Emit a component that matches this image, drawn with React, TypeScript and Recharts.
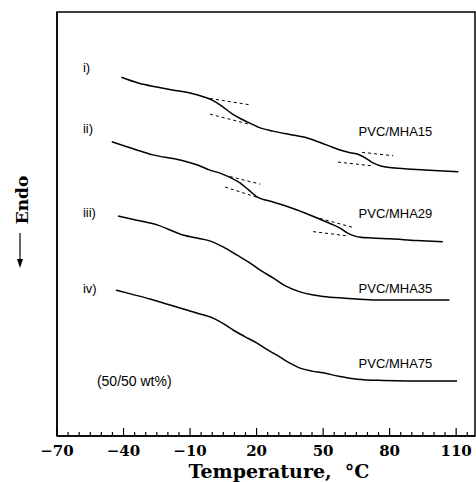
import React from "react";
import {
  LineChart,
  Line,
  XAxis,
  YAxis,
  ReferenceDot,
  ReferenceArea,
} from "recharts";

// temperature (°C) and heat flow (arbitrary units)
const TEMP_I = [-41, -33, -25, -18, -10, -4, 0, 3.5, 9, 15.7, 21, 27.4, 35, 42.8, 51.8, 58, 62.2, 66, 69, 72.5, 76, 80, 88, 100, 111];
const HEAT_I = [84.6, 83.2, 82.3, 81.6, 80.9, 80.0, 79.2, 78.1, 76.0, 74.1, 72.8, 71.9, 71.1, 70.3, 68.6, 67.4, 66.8, 66.4, 65.6, 64.4, 63.7, 63.3, 63.0, 62.6, 62.3];

const TEMP_II = [-45.3, -36, -26.7, -14.5, -6, -1, 3.5, 8, 12.5, 16.5, 20.2, 27.4, 38.3, 47.3, 54.6, 58, 60.9, 64, 66.8, 72, 80.2, 92, 104];
const HEAT_II = [69.4, 67.8, 66.3, 65.1, 63.8, 62.7, 62.0, 61.0, 59.7, 58.0, 56.4, 55.2, 53.3, 51.4, 49.8, 48.9, 47.9, 47.2, 46.9, 46.7, 46.5, 46.1, 45.8];

const TEMP_III = [-42.5, -34, -24.9, -13.2, -6, -2.3, 4.9, 11, 17.1, 22, 27.4, 33, 39.6, 45, 50, 60, 72.5, 90, 107];
const HEAT_III = [51.9, 50.9, 49.8, 47.4, 46.6, 46.2, 44.6, 42.7, 40.8, 39.0, 37.3, 35.4, 34.0, 33.3, 32.9, 32.5, 32.1, 32.1, 32.1];

const TEMP_IV = [-43.4, -36, -28.1, -21, -14.5, -7, 0.4, 5, 9.4, 14.5, 20.2, 25, 30.6, 35, 39.6, 45, 50, 57, 65.3, 77, 88, 100, 110.4];
const HEAT_IV = [34.4, 33.4, 32.3, 31.2, 30.2, 29.0, 27.8, 26.5, 25.0, 23.5, 21.9, 20.3, 18.6, 17.2, 16.0, 15.3, 14.9, 14.1, 13.4, 13.1, 13.0, 13.0, 13.0];

// dashed tangent construction lines [t1, q1, t2, q2]
const TANGENTS: number[][] = [
  [-1.0, 79.6, 17.1, 78.1],
  [-1.0, 75.9, 16.2, 73.6],
  [67.6, 66.9, 81.6, 66.1],
  [56.7, 64.6, 72.5, 63.7],
  [8.0, 61.2, 21.6, 59.4],
  [5.8, 58.7, 20.2, 56.3],
  [48.6, 51.3, 63.5, 49.2],
  [45.5, 48.2, 60.9, 47.2],
];

const CURVE_TAGS = ["i)", "ii)", "iii)", "iv)"];
const TAG_Y = [87.0, 72.6, 52.8, 34.9];
const SAMPLE_NAMES = ["PVC/MHA15", "PVC/MHA29", "PVC/MHA35", "PVC/MHA75"];
const SAMPLE_Y = [71.9, 52.4, 34.9, 17.2];

const X_TICKS = Array.from({ length: 38 }, (_, i) => -70 + i * 5);
const MAJOR_TICKS = [-70, -40, -10, 20, 50, 80, 110];
const MAJOR_LABELS = ["\u221270", "\u221240", "\u221210", "20", "50", "80", "110"];

const X_DOMAIN = [-70, 118.5];
const Y_DOMAIN = [0, 100];

const zip = (ts: number[], qs: number[]) => ts.map((t, i) => ({ t, q: qs[i] }));
const CURVES = [zip(TEMP_I, HEAT_I), zip(TEMP_II, HEAT_II), zip(TEMP_III, HEAT_III), zip(TEMP_IV, HEAT_IV)];

const SERIF = "'DejaVu Serif', serif";
const SANS = "'Liberation Sans', Arial, sans-serif";

const XTick = (props: any) => {
  const { x, y, payload } = props;
  const idx = MAJOR_TICKS.indexOf(payload.value);
  const major = idx >= 0;
  return (
    <g>
      <line x1={x} x2={x} y1={y} y2={y - (major ? 8 : 4)} stroke="#000" strokeWidth={1.2} />
      {major && (
        <text x={x} y={y + 20} textAnchor="middle" fontFamily={SERIF} fontWeight="bold" fontSize={15} fill="#000">
          {MAJOR_LABELS[idx]}
        </text>
      )}
    </g>
  );
};

const EndoLabel = () => (
  <g>
    <text
      x={22}
      y={200}
      transform="rotate(-90, 22, 200)"
      textAnchor="middle"
      dominantBaseline="central"
      fontFamily={SERIF}
      fontWeight="bold"
      fontSize={17}
      fill="#000"
    >
      Endo
    </text>
    <line x1={20} x2={20} y1={233} y2={264} stroke="#000" strokeWidth={1.2} />
    <polygon points="17,259 23,259 20,268" fill="#000" />
  </g>
);

const TempLabel = () => (
  <text x={279} y={478} textAnchor="middle" fontFamily={SERIF} fontWeight="bold" fontSize={19} fill="#000" style={{ whiteSpace: "pre" }}>
    {"Temperature,  \u00B0C"}
  </text>
);

const textShape = (label: string, size: number) => (p: any) => (
  <text x={p.cx} y={p.cy} dominantBaseline="central" fontFamily={SANS} fontSize={size} fill="#000">
    {label}
  </text>
);

export default function App() {
  return (
    <div style={{ position: "absolute", left: 0, top: 0, background: "#fff" }}>
      <LineChart width={476} height={482} margin={{ top: 12, right: 1, left: 0, bottom: 0 }}>
        <XAxis
          dataKey="t"
          type="number"
          domain={X_DOMAIN}
          ticks={X_TICKS}
          interval={0}
          allowDataOverflow
          tick={<XTick />}
          tickLine={false}
          tickSize={0}
          tickMargin={0}
          height={46}
          axisLine={{ stroke: "#000", strokeWidth: 1.5 }}
          label={<TempLabel />}
        />
        <YAxis
          type="number"
          domain={Y_DOMAIN}
          tick={false}
          tickLine={false}
          width={57}
          axisLine={{ stroke: "#000", strokeWidth: 1.5 }}
          label={<EndoLabel />}
        />
        {/* plot frame */}
        <ReferenceArea
          x1={X_DOMAIN[0]}
          x2={X_DOMAIN[1]}
          y1={Y_DOMAIN[0]}
          y2={Y_DOMAIN[1]}
          fill="none"
          fillOpacity={0}
          stroke="#000"
          strokeWidth={1.5}
          ifOverflow="visible"
        />
        {CURVES.map((c, i) => (
          <Line
            key={`curve-${i}`}
            data={c}
            dataKey="q"
            type="monotone"
            stroke="#000"
            strokeWidth={1.5}
            dot={false}
            isAnimationActive={false}
          />
        ))}
        {TANGENTS.map((s, i) => (
          <Line
            key={`tan-${i}`}
            data={[{ t: s[0], q: s[1] }, { t: s[2], q: s[3] }]}
            dataKey="q"
            type="linear"
            stroke="#000"
            strokeWidth={1}
            strokeDasharray="3 3"
            dot={false}
            isAnimationActive={false}
          />
        ))}
        {CURVE_TAGS.map((tag, i) => (
          <ReferenceDot key={tag} x={-58.3} y={TAG_Y[i]} r={0} shape={textShape(tag, 13)} />
        ))}
        {SAMPLE_NAMES.map((name, i) => (
          <ReferenceDot key={name} x={66.0} y={SAMPLE_Y[i]} r={0} shape={textShape(name, 13)} />
        ))}
        <ReferenceDot x={-52} y={13.0} r={0} shape={textShape("(50/50 wt%)", 14)} />
      </LineChart>
    </div>
  );
}
